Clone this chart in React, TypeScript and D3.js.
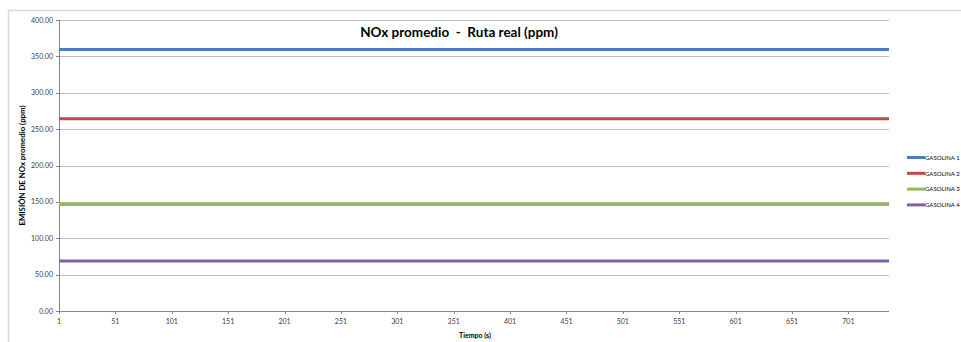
import React from "react";
import * as d3 from "d3";

// Average NOx emission per fuel over the real route (ppm)
const seriesNames = ["GASOLINA 1", "GASOLINA 2", "GASOLINA 3", "GASOLINA 4"];
const seriesAverages = [359.4, 264.2, 146.8, 68.8];
const seriesColors = ["#4A7EBB", "#BE4B48", "#98B954", "#7D60A0"];
const seriesWidths = [3, 3, 3.5, 3];

// Time span of the run (s)
const timeStart = 1;
const timeEnd = 737;
const xTickLabels = [1, 51, 101, 151, 201, 251, 301, 351, 401, 451, 501, 551, 601, 651, 701];
const yTickValues = [0, 50, 100, 150, 200, 250, 300, 350, 400];

const W = 961;
const H = 342;
const plot = { left: 59, right: 889, top: 20, bottom: 311 };
const font = "Lato, 'Open Sans', sans-serif";

export default function App() {
  const x = d3.scaleLinear().domain([timeStart, timeEnd]).range([plot.left, plot.right]);
  const y = d3.scaleLinear().domain([0, 400]).range([plot.bottom, plot.top]);
  const line = d3
    .line<{ t: number; v: number }>()
    .x((d) => x(d.t))
    .y((d) => y(d.v));

  return (
    <svg
      width={W}
      height={H}
      style={{ position: "absolute", left: 0, top: 0, background: "#fff" }}
      fontFamily={font}
    >
      {/* chart frame */}
      <rect x={8.5} y={10.5} width={W + 10} height={H + 10} fill="#fff" stroke="#D9D9D9" strokeWidth={1.5} />

      {/* horizontal gridlines */}
      {yTickValues.slice(1).map((v) => (
        <line key={v} x1={plot.left} x2={plot.right} y1={Math.round(y(v)) + 0.5} y2={Math.round(y(v)) + 0.5} stroke="#BDBDBD" strokeWidth={1} />
      ))}

      {/* y axis */}
      <line x1={plot.left + 0.5} x2={plot.left + 0.5} y1={plot.top} y2={plot.bottom} stroke="#868686" />
      {yTickValues.map((v) => (
        <g key={v}>
          <line x1={plot.left - 3} x2={plot.left} y1={Math.round(y(v)) + 0.5} y2={Math.round(y(v)) + 0.5} stroke="#868686" />
          <text x={plot.left - 6} y={y(v) + 2.5} fontSize={7} textAnchor="end" fill="#404040">
            {v.toFixed(2)}
          </text>
        </g>
      ))}

      {/* x axis */}
      <line x1={plot.left} x2={plot.right} y1={plot.bottom + 0.5} y2={plot.bottom + 0.5} stroke="#868686" />
      {xTickLabels.map((t) => (
        <g key={t}>
          <line x1={Math.round(x(t)) + 0.5} x2={Math.round(x(t)) + 0.5} y1={plot.bottom} y2={plot.bottom + 3} stroke="#868686" />
          <text x={x(t)} y={plot.bottom + 13} fontSize={7} textAnchor="middle" fill="#404040">
            {t}
          </text>
        </g>
      ))}

      {/* series */}
      {seriesAverages.map((v, i) => (
        <path
          key={seriesNames[i]}
          d={line([
            { t: timeStart, v },
            { t: timeEnd, v },
          ]) as string}
          fill="none"
          stroke={seriesColors[i]}
          strokeWidth={seriesWidths[i]}
        />
      ))}

      {/* title */}
      <text x={459} y={37} fontSize={13.5} fontWeight="bold" textAnchor="middle" fill="#000" style={{ whiteSpace: "pre" }}>
        {"NOx promedio  -  Ruta real (ppm)"}
      </text>

      {/* axis titles */}
      <text x={475} y={338} fontSize={7} fontWeight="bold" textAnchor="middle" fill="#000">
        Tiempo (s)
      </text>
      <text
        transform={`translate(25, ${(plot.top + plot.bottom) / 2}) rotate(-90)`}
        fontSize={7.8}
        fontWeight="bold"
        textAnchor="middle"
        fill="#000"
      >
        EMISIÓN DE NOx promedio (ppm)
      </text>

      {/* legend */}
      {seriesNames.map((name, i) => {
        const ly = 157.5 + i * 15.8;
        return (
          <g key={name}>
            <line x1={907} x2={925} y1={ly} y2={ly} stroke={seriesColors[i]} strokeWidth={3} />
            <text x={925} y={ly + 2.3} fontSize={6} fill="#000">
              {name}
            </text>
          </g>
        );
      })}
    </svg>
  );
}
